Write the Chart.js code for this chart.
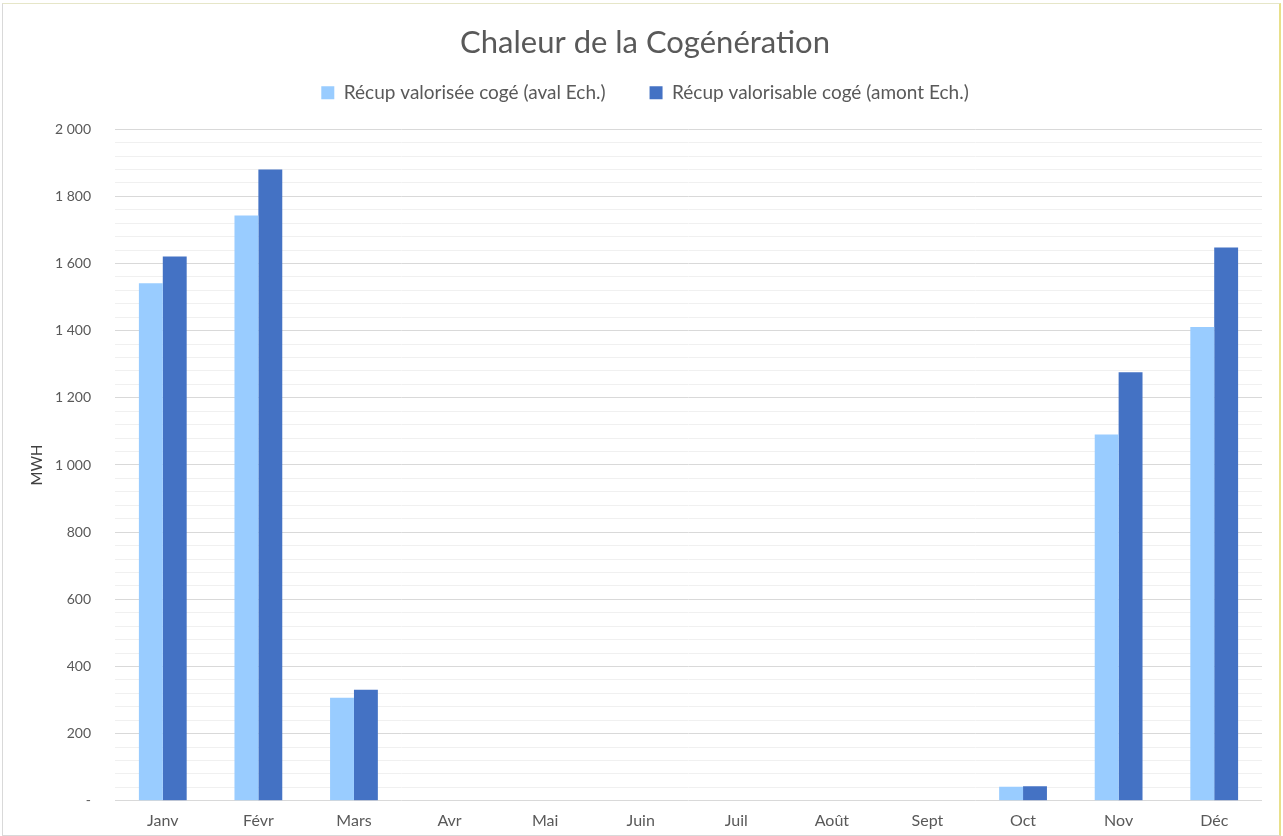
<!DOCTYPE html>
<html>
<head>
<meta charset="utf-8">
<script src="https://cdn.jsdelivr.net/npm/chart.js@4.4.1/dist/chart.umd.min.js"></script>
<style>
  html, body { margin: 0; padding: 0; background: #fff; }
  #wrap {
    position: absolute; left: 2px; top: 3px;
    width: 1279px; height: 833px;
    border: 1px solid #d9d9d9;
    border-top-color: #e6e6c8; border-right: 2px solid #e8e08a;
    box-sizing: border-box;
  }
</style>
</head>
<body>
<div id="wrap"><canvas id="cogenChart"></canvas></div>
<script>
const months = ["Janv", "Févr", "Mars", "Avr", "Mai", "Juin", "Juil", "Août", "Sept", "Oct", "Nov", "Déc"];
const valorisee = [1541, 1743, 307, 0, 0, 0, 0, 0, 0, 42, 1091, 1411];
const valorisable = [1621, 1880, 331, 0, 0, 0, 0, 0, 0, 43, 1276, 1648];
const seriesNames = ["Récup valorisée cogé (aval Ech.)", "Récup valorisable cogé (amont Ech.)"];

const textGrey = "#595959";
const fontFamily = "Lato, 'Open Sans', sans-serif";

// label with a space as thousands separator, "-" for zero
const formatTick = (v) => {
    if (v === 0) return "-";
    return String(v).replace(/\B(?=(\d{3})+(?!\d))/g, " ");
};

// extra room under the legend
const legendGap = {
    id: "legendGap",
    beforeInit(chart) {
        const fit = chart.legend.fit;
        chart.legend.fit = function () {
            fit.bind(chart.legend)();
            this.height += 17;
        };
    },
};

document.addEventListener("DOMContentLoaded", () => {
    const ctx = document.getElementById("cogenChart");

    new Chart(ctx, {
        type: "bar",
        data: {
            labels: months,
            datasets: [
                {
                    label: seriesNames[0],
                    data: valorisee,
                    backgroundColor: "#99CCFF",
                    categoryPercentage: 0.5,
                    barPercentage: 1.0,
                },
                {
                    label: seriesNames[1],
                    data: valorisable,
                    backgroundColor: "#4472C4",
                    categoryPercentage: 0.5,
                    barPercentage: 1.0,
                },
            ],
        },
        options: {
            responsive: true,
            maintainAspectRatio: false,
            animation: false,
            layout: {
                padding: { left: 25, right: 17, top: 12, bottom: -5 },
            },
            plugins: {
                title: {
                    display: true,
                    text: "Chaleur de la Cogénération",
                    color: textGrey,
                    font: { family: fontFamily, size: 31, weight: "normal" },
                    padding: { top: 8, bottom: -22 },
                },
                legend: {
                    position: "top",
                    labels: {
                        color: textGrey,
                        font: { family: fontFamily, size: 19 },
                        boxWidth: 13,
                        boxHeight: 13,
                        padding: 44,
                    },
                },
                tooltip: { enabled: false },
            },
            scales: {
                x: {
                    grid: { display: false, drawTicks: false, tickLength: 0 },
                    border: { display: false },
                    ticks: {
                        color: textGrey,
                        font: { family: fontFamily, size: 16 },
                        padding: 10,
                    },
                },
                y: {
                    min: 0,
                    max: 2000,
                    border: { display: false },
                    afterFit: (scale) => { scale.width = 87; },
                    grid: {
                        color: (c) => (c.tick && c.tick.value % 200 === 0 ? "#d9d9d9" : "#f0f0f0"),
                        lineWidth: 1,
                        drawTicks: false,
                    },
                    ticks: {
                        stepSize: 40,
                        autoSkip: false,
                        color: textGrey,
                        font: { family: fontFamily, size: 14 },
                        padding: 24,
                        callback: (v) => (v % 200 === 0 ? formatTick(v) : ""),
                    },
                    title: {
                        display: true,
                        text: "MWH",
                        color: "#404040",
                        font: { family: fontFamily, size: 15 },
                        padding: { top: 0, bottom: 0 },
                    },
                },
            },
        },
        plugins: [legendGap],
    });
});
</script>
</body>
</html>
